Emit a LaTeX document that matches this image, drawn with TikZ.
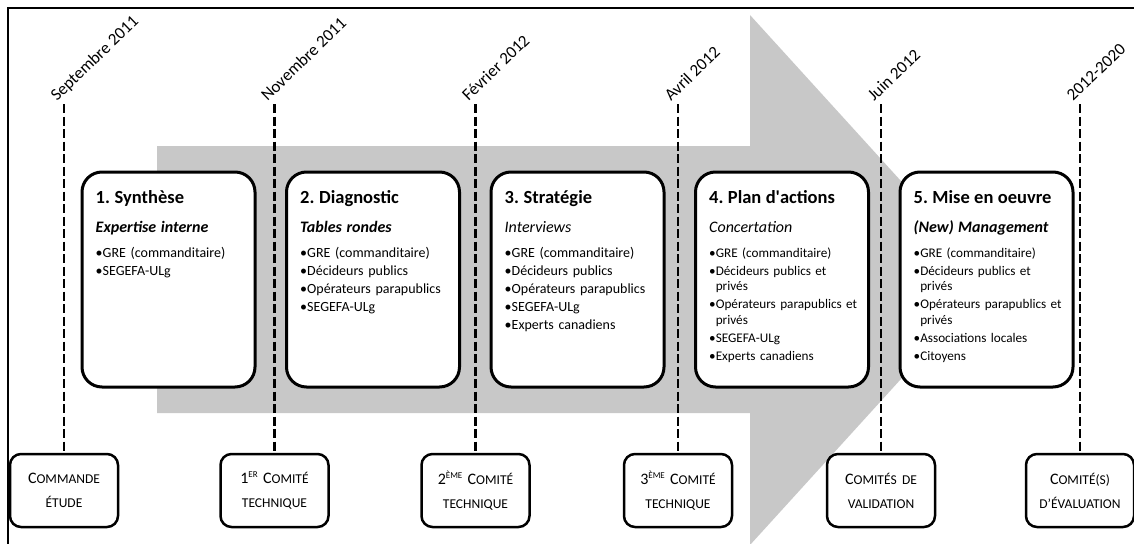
\documentclass[tikz,border=0pt]{standalone}
\usepackage{fontspec}
\setmainfont{Carlito}
\usetikzlibrary{positioning}

\definecolor{grisfleche}{RGB}{200,200,200}

\newcommand\petit{\fontsize{13.5}{24}\selectfont}
\newcommand\pc[2]{{\fontsize{16}{24}\selectfont #1}{\petit #2}}
\newcommand\expo[1]{\raisebox{5.5pt}{\fontsize{9}{10}\selectfont #1}}
\newcommand\titre{\fontsize{18.5}{18}\selectfont\bfseries}
\newcommand\sousbf{\fontsize{16}{18}\selectfont\bfseries\itshape}
\newcommand\sousit{\fontsize{16}{18}\selectfont\itshape}
\newcommand\suite{\phantom{•}}
\frenchspacing

\begin{document}
\begin{tikzpicture}[x=1pt, y=-1pt,
		phase/.style     = {draw, line width=3pt, rounded corners=20pt, fill=white, minimum width=173pt, minimum height=215pt, inner sep=0pt},
		phasetxt/.style  = {anchor=base west, inner sep=0pt, text width=165pt, align=left, font=\fontsize{14}{18}\selectfont},
		phasetxt2/.style = {phasetxt, font=\fontsize{13.2}{15.5}\selectfont},
		jalon/.style     = {draw, line width=2.5pt, rounded corners=11pt, fill=white, minimum width=108pt, minimum height=73pt, text width=104pt, align=center, inner sep=0pt, font=\fontsize{16}{24}\selectfont},
		datelabel/.style = {anchor=base west, rotate=44, inner sep=0pt, font=\fontsize{17}{18}\selectfont},
		pointilles/.style = {line width=2.5pt, dash pattern=on 9pt off 3.5pt},
		node distance=28.5pt]
		
		\useasboundingbox (0,0) rectangle (1134,543);
		
		% frame and big grey arrow
		\draw[line width=2.5pt] (8,560) |- (1150,8);
		\fill[grisfleche] (157,146) -- (750,146) -- (750,15) -- (991,280) -- (750,545) -- (750,413) -- (157,413) -- cycle;
		
		% top of the dashed lines
		\coordinate (d1) at (64,104);
		\coordinate (d2) at (274.5,104);
		\coordinate (d3) at (475.5,104);
		\coordinate (d4) at (678,104);
		\coordinate (d5) at (881,104);
		\coordinate (d6) at (1080,104);
		
		% dates
		\begin{scope}[every node/.style={datelabel}]
			\node (l1) at ([xshift=-7pt, yshift=2pt]d1) {Septembre 2011};
			\node (l2) at ([xshift=-7pt, yshift=2pt]d2) {Novembre 2011};
			\node (l3) at ([xshift=-7pt, yshift=2pt]d3) {Février 2012};
			\node (l4) at ([xshift=-7pt, yshift=2pt]d4) {Avril 2012};
			\node (l5) at ([xshift=-7pt, yshift=2pt]d5) {Juin 2012};
			\node (l6) at ([xshift=-7pt, yshift=2pt]d6) {2012-2020};
		\end{scope}
		
		% committees, bottom row
		\begin{scope}[every node/.style={jalon}]
			\node (c1) at (64,490.5) {\pc{C}{OMMANDE}\\ {\petit ÉTUDE}};
			\node (c2) at (274.5,490.5) {1\expo{ER} \pc{C}{OMITÉ}\\ {\petit TECHNIQUE}};
			\node (c3) at (475.5,490.5) {2\expo{ÈME} \pc{C}{OMITÉ}\\ {\petit TECHNIQUE}};
			\node (c4) at (678,490.5) {3\expo{ÈME} \pc{C}{OMITÉ}\\ {\petit TECHNIQUE}};
			\node (c5) at (881,490.5) {\pc{C}{OMITÉS DE}\\ {\petit VALIDATION}};
			\node (c6) at (1080,490.5) {\pc{C}{OMITÉ(S)}\\ {\petit D’ÉVALUATION}};
		\end{scope}
		
		\foreach \i in {1,...,6}
		\draw[pointilles] (d\i) -- (c\i.north);
		
		% the five phases
		\node[phase] (s1) at (168.5,279.5) {};
		\node[phase, right=of s1] (s2) {};
		\node[phase, right=of s2] (s3) {};
		\node[phase, right=of s3] (s4) {};
		\node[phase, right=of s4] (s5) {};
		
		\node[phasetxt] (t1) at ([xshift=15pt, yshift=-33pt]s1.north west)
		{{\titre 1. Synthèse}\\[11pt]{\sousbf Expertise interne}\\[6.5pt]•GRE (commanditaire)\\ •SEGEFA-ULg};
		\node[phasetxt] (t2) at ([xshift=15pt, yshift=-33pt]s2.north west)
		{{\titre 2. Diagnostic}\\[11pt]{\sousbf Tables rondes}\\[6.5pt]•GRE (commanditaire)\\ •Décideurs publics\\ •Opérateurs parapublics\\ •SEGEFA-ULg};
		\node[phasetxt] (t3) at ([xshift=15pt, yshift=-33pt]s3.north west)
		{{\titre 3. Stratégie}\\[11pt]{\sousit Interviews}\\[6.5pt]•GRE (commanditaire)\\ •Décideurs publics\\ •Opérateurs parapublics\\ •SEGEFA-ULg\\ •Experts canadiens};
		\node[phasetxt2] (t4) at ([xshift=15pt, yshift=-33pt]s4.north west)
		{{\titre 4. Plan d\textquotesingle actions}\\[13.5pt]{\sousit Concertation}\\[9pt]•GRE (commanditaire)\\[2.5pt]•Décideurs publics et\\ \suite privés\\[2.5pt]•Opérateurs parapublics et\\ \suite privés\\[2.5pt]•SEGEFA-ULg\\[2.5pt]•Experts canadiens};
		\node[phasetxt2] (t5) at ([xshift=15pt, yshift=-33pt]s5.north west)
		{{\titre 5. Mise en oeuvre}\\[13.5pt]{\sousbf (New) Management}\\[9pt]•GRE (commanditaire)\\[2.5pt]•Décideurs publics et\\ \suite privés\\[2.5pt]•Opérateurs parapublics et\\ \suite privés\\[2.5pt]•Associations locales\\[2.5pt]•Citoyens};
		
	\end{tikzpicture}
\end{document}
